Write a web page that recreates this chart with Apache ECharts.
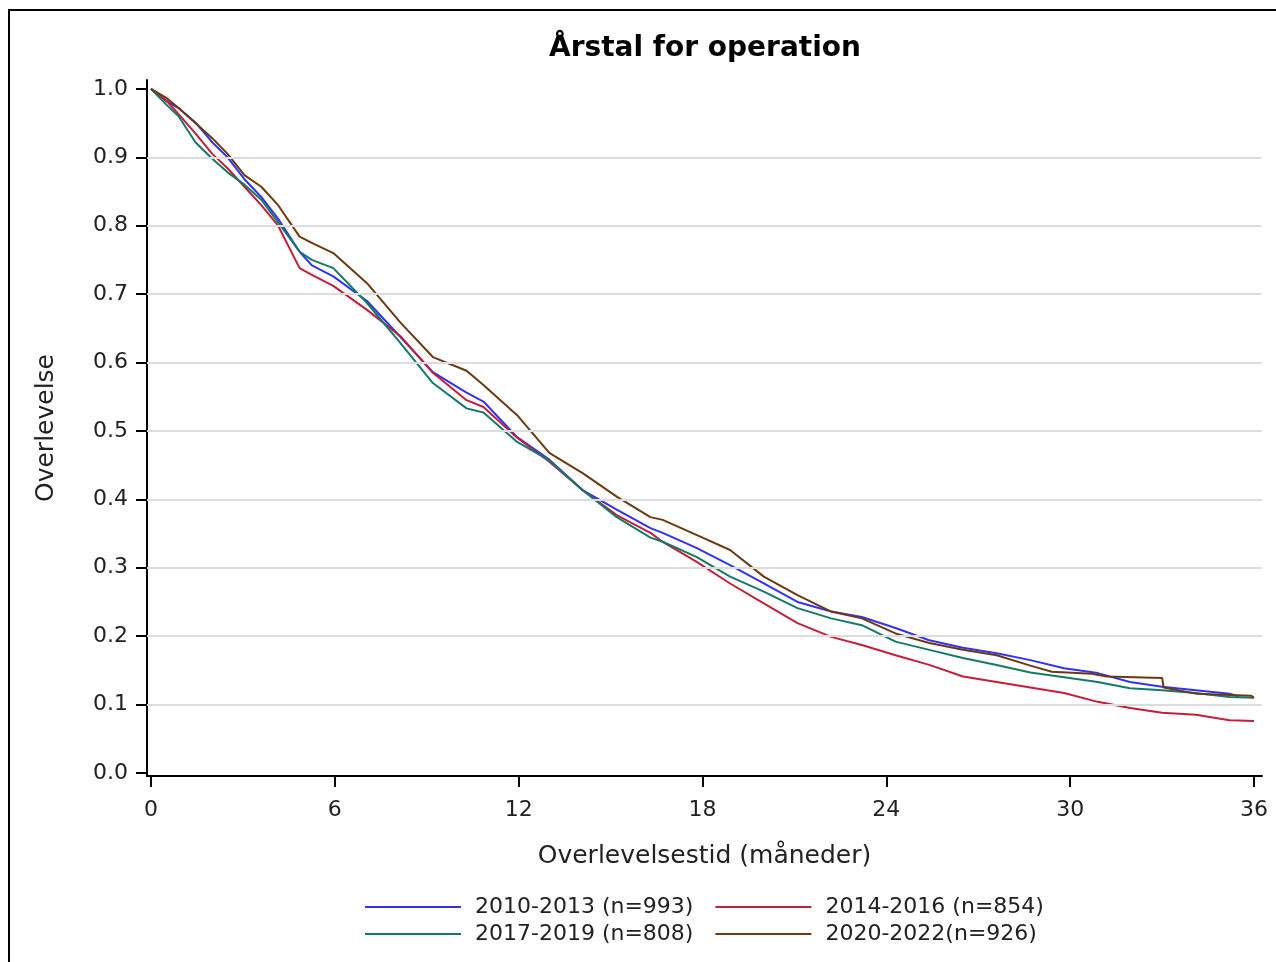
<!DOCTYPE html>
<html>
<head>
<meta charset="utf-8">
<script src="https://cdn.jsdelivr.net/npm/echarts@6/dist/echarts.min.js"></script>
<style>
  html, body { margin: 0; padding: 0; background: #fff; }
  #chart { width: 1276px; height: 962px; }
</style>
</head>
<body>
<div id="chart"></div>
<script>
// Kaplan-Meier overlevelse efter årstal for operation (måneder 0-36)
const months = [0, 0.5, 0.9, 1.45, 2, 2.5, 3.05, 3.6, 4.15, 4.85, 5.25, 5.95, 7.05, 8.15, 9.2, 10.3, 10.85,
  11.95, 13, 14.1, 15.2, 16.3, 16.7, 17.8, 18.9, 20, 21.1, 22.2, 23.2, 24.3, 25.4, 26.5, 27.6, 28.7,
  29.8, 30.9, 31.95, 33, 34.1, 35.2, 36];
const monthsA = months.slice(0, 40).concat([35.5]);
const monthsD = months.slice(0, 34).concat([29.4, 30.7, 31.2, 33.0, 33.05, 34.1, 35.9, 36]);

const surv2010 = [1.0, 0.982, 0.972, 0.951, 0.922, 0.9, 0.868, 0.842, 0.81, 0.762, 0.742, 0.726, 0.69, 0.637,
  0.586, 0.556, 0.543, 0.491, 0.458, 0.413, 0.385, 0.358, 0.351, 0.329, 0.304, 0.277, 0.25, 0.236, 0.228,
  0.212, 0.194, 0.183, 0.175, 0.165, 0.153, 0.146, 0.133, 0.126, 0.121, 0.116, 0.112];
const surv2014 = [1.0, 0.983, 0.963, 0.935, 0.905, 0.884, 0.857, 0.83, 0.80, 0.738, 0.728, 0.712, 0.677, 0.638,
  0.585, 0.545, 0.535, 0.49, 0.455, 0.413, 0.377, 0.351, 0.338, 0.309, 0.277, 0.248, 0.219, 0.199, 0.187,
  0.172, 0.158, 0.141, 0.133, 0.125, 0.117, 0.104, 0.095, 0.088, 0.085, 0.077, 0.076];
const surv2017 = [1.0, 0.977, 0.96, 0.922, 0.898, 0.878, 0.86, 0.838, 0.805, 0.762, 0.75, 0.738, 0.687, 0.628,
  0.57, 0.533, 0.527, 0.484, 0.457, 0.413, 0.374, 0.344, 0.338, 0.316, 0.287, 0.265, 0.241, 0.226, 0.216,
  0.192, 0.18, 0.168, 0.158, 0.147, 0.14, 0.133, 0.124, 0.121, 0.117, 0.111, 0.110];
const surv2020 = [1.0, 0.987, 0.972, 0.95, 0.928, 0.905, 0.874, 0.857, 0.83, 0.784, 0.775, 0.76, 0.716, 0.658,
  0.608, 0.588, 0.567, 0.523, 0.468, 0.438, 0.404, 0.374, 0.37, 0.348, 0.326, 0.287, 0.26, 0.236, 0.226,
  0.204, 0.19, 0.18, 0.172, 0.157, 0.148, 0.145, 0.141, 0.139, 0.125, 0.116, 0.113, 0.110];

const groupNames = ['2010-2013 (n=993)', '2014-2016 (n=854)', '2017-2019 (n=808)', '2020-2022(n=926)'];
const groupColors = ['#3232f4', '#c41e3a', '#137a68', '#6b3a10'];
const xTicks = [0, 6, 12, 18, 24, 30, 36];
const yTicks = [0, 0.1, 0.2, 0.3, 0.4, 0.5, 0.6, 0.7, 0.8, 0.9, 1.0];
const yGrid = [0.1, 0.2, 0.3, 0.4, 0.5, 0.6, 0.7, 0.8, 0.9];

const FONT = 'DejaVu Sans';
const pairs = (t, s) => t.map((v, i) => [v, s[i]]);
const seriesData = [pairs(monthsA, surv2010), pairs(months, surv2014), pairs(months, surv2017), pairs(monthsD, surv2020)];

const chart = echarts.init(document.getElementById('chart'), null, { renderer: 'canvas' });

const lineSeries = groupNames.map((name, i) => ({
  name: name,
  type: 'line',
  data: seriesData[i],
  symbol: 'none',
  showSymbol: false,
  smooth: false,
  z: 3,
  color: groupColors[i],
  lineStyle: { color: groupColors[i], width: 2 },
  emphasis: { disabled: true },
  animation: false
}));

const legendText = { fontFamily: FONT, fontSize: 22, color: '#222', padding: [0, 0, 0, 9] };
const legendBase = {
  left: 360,
  icon: 'rect',
  itemWidth: 96, itemHeight: 2, itemGap: 22,
  textStyle: legendText,
  selectedMode: false
};

chart.setOption({
  animation: false,
  backgroundColor: '#fff',
  title: {
    text: 'Årstal for operation',
    left: 700,
    textAlign: 'center',
    top: 30,
    textStyle: { fontFamily: FONT, fontSize: 28, fontWeight: 'bold', color: '#000' }
  },
  graphic: [{
    type: 'rect',
    shape: { x: 9, y: 10, width: 1300, height: 1000 },
    style: { fill: 'none', stroke: '#000', lineWidth: 2 },
    silent: true
  }],
  legend: [
    Object.assign({ data: groupNames.slice(0, 2), top: 891 }, legendBase),
    Object.assign({ data: groupNames.slice(2, 4), top: 918 }, legendBase)
  ],
  grid: { left: 147, right: 14, top: 80, bottom: 186, containLabel: false },
  xAxis: {
    type: 'value',
    min: -0.13, max: 36.26,
    name: 'Overlevelsestid (måneder)',
    nameLocation: 'middle',
    nameGap: 68,
    nameTextStyle: { fontFamily: FONT, fontSize: 25, color: '#222' },
    axisLine: { show: true, onZero: false, lineStyle: { color: '#000', width: 2 } },
    axisTick: { show: true, inside: false, length: 11, customValues: xTicks, lineStyle: { color: '#000', width: 2 } },
    axisLabel: { show: true, margin: 23, customValues: xTicks, fontFamily: FONT, fontSize: 22, color: '#222' },
    splitLine: { show: false }
  },
  yAxis: {
    type: 'value',
    min: -0.0044, max: 1.013,
    name: 'Overlevelse',
    nameLocation: 'middle',
    nameRotate: 90,
    nameGap: 88,
    nameTextStyle: { fontFamily: FONT, fontSize: 25, color: '#222' },
    axisLine: { show: true, onZero: false, lineStyle: { color: '#000', width: 2 } },
    axisTick: { show: true, inside: false, length: 11, customValues: yTicks, lineStyle: { color: '#000', width: 2 } },
    axisLabel: {
      show: true, margin: 19, customValues: yTicks, fontFamily: FONT, fontSize: 22, color: '#222',
      formatter: v => v.toFixed(1)
    },
    splitLine: { show: false }
  },
  series: [{
    name: 'grid',
    type: 'line',
    data: [],
    z: 1,
    silent: true,
    markLine: {
      silent: true,
      symbol: ['none', 'none'],
      label: { show: false },
      lineStyle: { color: '#dcdcdc', width: 2, type: 'solid' },
      emphasis: { disabled: true },
      data: yGrid.map(v => ({ yAxis: v }))
    }
  }].concat(lineSeries)
});
</script>
</body>
</html>
